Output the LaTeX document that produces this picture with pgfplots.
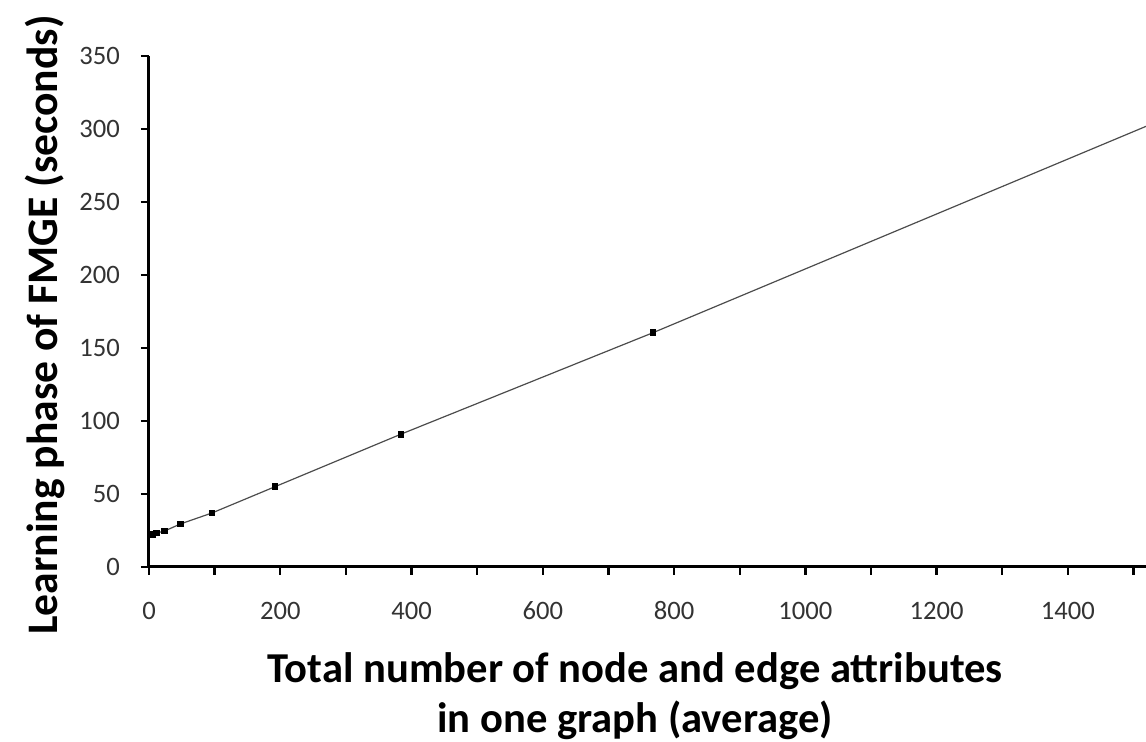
\documentclass[border=0pt]{standalone}
\usepackage{pgfplots}
\pgfplotsset{compat=1.18}
\usepackage{fontspec}
\setmainfont{Carlito}
\begin{document}
\begin{tikzpicture}
\begin{axis}[
  scale only axis,
  width=498.5pt, height=255.5pt,
  xmin=0, xmax=1519, ymin=0, ymax=350,
  axis x line*=bottom, axis y line*=left,
  axis line style={line width=1.5pt, black},
  xtick={0,200,...,1400},
  minor xtick={100,300,...,1500},
  ytick={0,50,...,350},
  tick align=outside,
  major tick length=4pt, minor tick length=4pt,
  every tick/.style={line width=1.2pt, black},
  tick label style={font=\fontsize{13.3}{15}\selectfont, text=black!80},
  /pgf/number format/assume math mode=true,
  /pgf/number format/1000 sep={},
  xticklabel style={anchor=base, yshift=-22.5pt},
  yticklabel style={xshift=-7pt},
  xlabel={Total number of node and edge attributes\\in one graph (average)},
  xlabel style={at={(axis description cs:0.4875,-0.252)}, anchor=center, align=center,
    font=\bfseries\fontsize{21.3}{25}\selectfont},
  ylabel={Learning phase of FMGE (seconds)},
  ylabel style={at={(axis description cs:-0.1043,0.4736)}, anchor=center, rotate=0,
    font=\bfseries\fontsize{21.8}{26}\selectfont},
  clip=true,
]
\addplot[black!70, line width=0.6pt, mark=square*, mark size=1.4pt,
  mark options={black, solid}] coordinates {
  (3,22) (6,22.5) (12,23.3) (24,24.7) (48,29.5) (96,37) (192,55) (384,91) (768,160.5) (1536,305)
};
\end{axis}
\pgfresetboundingbox
\path (current axis.south west) ++(-74.5pt,-87.5pt) rectangle ++(573pt,371pt);
\end{tikzpicture}
\end{document}
